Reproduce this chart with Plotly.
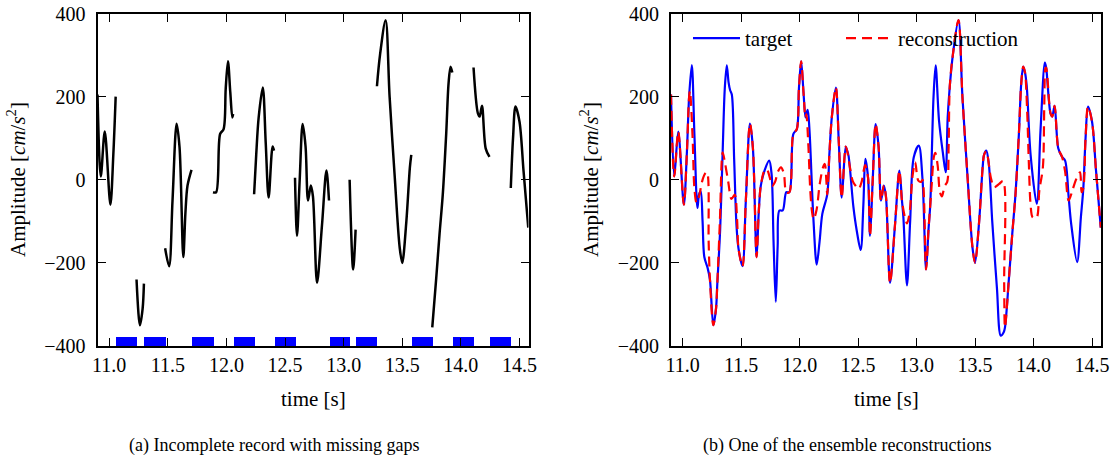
import plotly.graph_objects as go

# ---------------- data ----------------
# ground-motion record (target), sampled at its turning points [s], [cm/s^2]
target_time = [
    10.900, 10.928, 10.962, 11.010, 11.035, 11.055, 11.078, 11.100, 11.126, 11.140,
    11.154, 11.170, 11.185, 11.213, 11.233, 11.262, 11.285, 11.296, 11.320, 11.342,
    11.360, 11.377, 11.392, 11.405, 11.420, 11.440, 11.460, 11.477, 11.511, 11.540,
    11.575, 11.600, 11.632, 11.650, 11.668, 11.702, 11.740, 11.760, 11.777, 11.796,
    11.812, 11.827, 11.855, 11.886, 11.912, 11.946, 11.976, 11.994, 12.013, 12.033,
    12.050, 12.057, 12.069, 12.084, 12.117, 12.146, 12.170, 12.194, 12.236, 12.254,
    12.275, 12.310, 12.335, 12.360, 12.394, 12.406, 12.418, 12.460, 12.488, 12.522,
    12.545, 12.562, 12.585, 12.602, 12.625, 12.650, 12.675, 12.696, 12.720, 12.738,
    12.773, 12.815, 12.853, 12.875, 12.887, 12.918, 12.945, 12.976, 13.019, 13.051,
    13.081, 13.102, 13.117, 13.130, 13.145, 13.163, 13.192, 13.226, 13.249, 13.266,
    13.284, 13.310, 13.358, 13.392, 13.436, 13.478, 13.500, 13.535, 13.565, 13.577,
    13.596, 13.617, 13.647, 13.687, 13.720, 13.745, 13.756, 13.790, 13.818, 13.846,
    13.875, 13.895, 13.912, 13.927, 13.942, 13.975, 14.028, 14.060, 14.097, 14.108,
    14.145, 14.160, 14.180, 14.212, 14.244, 14.270, 14.300, 14.322, 14.373, 14.405,
    14.426, 14.445, 14.466, 14.500, 14.535, 14.575,
]
target_amp = [
    205, 8, 116, -60, 60, 200, 276, 110, -68, -35,
    -28, -100, -186, -212, -240, -350, -310, -250, -122, 70,
    220, 275, 235, 216, 205, 50, -110, -165, -208, -50,
    135, 78, -186, -80, -14, 24, 46, 14, -150, -294,
    -160, -74, -74, -30, -30, 110, 122, 220, 285, 210,
    150, 158, 168, 120, -90, -204, -150, -82, -35, 60,
    150, 222, 90, -43, 80, 70, 58, -66, -122, -169,
    -60, 50, 5, -135, 0, 134, 80, -50, -14, -40,
    -248, -110, 22, -50, -90, -254, -100, 54, 82, 0,
    -216, -120, -60, 60, 200, 275, 142, 62, 18, 150,
    225, 300, 384, 200, 6, -163, -200, -100, 30, 60,
    70, 40, -100, -260, -375, -367, -355, -236, -131, -34,
    111, 232, 272, 258, 225, 60, -58, 120, 282, 270,
    160, 152, 178, 75, 55, 46, -40, -106, -198, -90,
    -20, 100, 176, 140, 20, -115,
]

# missing intervals of the record [s]
gap_start = [11.055, 11.296, 11.702, 12.057, 12.406, 12.875, 13.102, 13.577, 13.927, 14.244]
gap_end = [11.233, 11.477, 11.886, 12.236, 12.585, 13.051, 13.284, 13.756, 14.108, 14.426]

# reconstruction inside the missing intervals
recon_gap_time = [
    11.062, 11.085, 11.100, 11.118, 11.140, 11.165, 11.190, 11.208, 11.222,
    11.318, 11.342, 11.362, 11.390, 11.417, 11.445, 11.465,
    11.720, 11.745, 11.765, 11.790, 11.815, 11.840, 11.865,
    12.075, 12.090, 12.105, 12.120, 12.145, 12.172, 12.200, 12.215, 12.228,
    12.430, 12.455, 12.480, 12.505, 12.530, 12.560,
    12.900, 12.918, 12.940, 12.966, 12.988, 13.015, 13.040,
    13.125, 13.148, 13.160, 13.180, 13.200, 13.217, 13.240, 13.262, 13.274,
    13.596, 13.635, 13.663, 13.706, 13.740, 13.749,
    13.945, 13.960, 13.975, 13.992, 14.025, 14.050, 14.080, 14.092, 14.102,
    14.270, 14.300, 14.330, 14.360, 14.388, 14.398, 14.412,
]
recon_gap_amp = [
    214, 100, -20, -55, -40, -5, 14, 18, -150,
    -100, 66, 40, -6, -46, -36, -95,
    25, 5, -15, -5, 20, 30, 15,
    80, -20, -75, -95, -72, -10, 30, 38, 0,
    30, -4, -15, -22, -5, 35,
    -90, -105, -80, 10, 42, -2, -5,
    -30, 55, 65, 35, -30, -40, -15, -5, 80,
    68, 5, -18, -10, -3, -250,
    170, 40, -60, -90, -92, -25, 30, 180, 268,
    20, -50, -28, -2, 15, 18, -30,
]

x_ticks = [11.0, 11.5, 12.0, 12.5, 13.0, 13.5, 14.0, 14.5]
y_ticks = [-400, -200, 0, 200, 400]

# ---------------- derived series ----------------
def in_gap(t):
    return any(s < t < e for s, e in zip(gap_start, gap_end))

observed_amp = [None if in_gap(t) else a for t, a in zip(target_time, target_amp)]

recon_pts = sorted(
    [(t, a) for t, a in zip(target_time, target_amp) if not in_gap(t)]
    + list(zip(recon_gap_time, recon_gap_amp))
)
recon_time = [p[0] for p in recon_pts]
recon_amp = [p[1] for p in recon_pts]

gap_center = [(s + e) / 2 for s, e in zip(gap_start, gap_end)]
gap_width = [e - s for s, e in zip(gap_start, gap_end)]
GAP_MARK = 24  # height of the gap indicator above the bottom of the axis

# ---------------- figure ----------------
W, H = 1116, 460
FONT = "Liberation Serif, Times New Roman, DejaVu Serif, serif"

def fx(px):
    return px / W

def fy(py):
    return 1 - py / H

fig = go.Figure()

# (a) observed record with gaps
fig.add_trace(go.Scatter(
    x=target_time, y=observed_amp, mode="lines", connectgaps=False,
    line=dict(color="black", width=2.5, shape="spline", smoothing=0.9),
    showlegend=False, xaxis="x", yaxis="y",
))
fig.add_trace(go.Bar(
    x=gap_center, y=[GAP_MARK] * len(gap_center), base=-400, width=gap_width,
    marker=dict(color="#0000ff", line=dict(width=0)),
    showlegend=False, xaxis="x", yaxis="y",
))

# (b) target vs reconstruction
fig.add_trace(go.Scatter(
    x=target_time, y=target_amp, mode="lines", name="target", legend="legend",
    line=dict(color="#0000ff", width=2.2, shape="spline", smoothing=0.9),
    xaxis="x2", yaxis="y2",
))
fig.add_trace(go.Scatter(
    x=recon_time, y=recon_amp, mode="lines", name="reconstruction", legend="legend2",
    line=dict(color="#ff0000", width=2.2, shape="spline", smoothing=0.9, dash="10px,6px"),
    xaxis="x2", yaxis="y2",
))

axis_common = dict(
    showline=True, linecolor="black", linewidth=2, mirror="ticks",
    ticks="inside", ticklen=8, tickwidth=1.2, tickcolor="black",
    showgrid=False, zeroline=False,
    tickfont=dict(family=FONT, size=20, color="black"),
)
xr = [10.9, 14.577]

legend_common = dict(
    orientation="h", xanchor="left", yanchor="top", y=fy(18),
    bgcolor="rgba(0,0,0,0)", borderwidth=0, itemwidth=47,
    font=dict(family=FONT, size=21, color="black"),
)

fig.update_layout(
    width=W, height=H,
    margin=dict(l=0, r=0, t=0, b=0, autoexpand=False),
    paper_bgcolor="white", plot_bgcolor="white",
    font=dict(family=FONT, color="black"),
    bargap=0,
    xaxis=dict(domain=[fx(97.5), fx(528.5)], range=xr, anchor="y",
               tickvals=x_ticks, ticktext=[f"{v:.1f}" for v in x_ticks],
               ticklabelstandoff=0, **axis_common),
    yaxis=dict(domain=[fy(346), fy(13.5)], range=[-400, 400], anchor="x",
               tickvals=y_ticks, ticklabelstandoff=6, **axis_common),
    xaxis2=dict(domain=[fx(671), fx(1101)], range=xr, anchor="y2",
                tickvals=x_ticks, ticktext=[f"{v:.1f}" for v in x_ticks],
                ticklabelstandoff=0, **axis_common),
    yaxis2=dict(domain=[fy(346), fy(13.5)], range=[-400, 400], anchor="x2",
                tickvals=y_ticks, ticklabelstandoff=6, **axis_common),
    legend=dict(x=fx(688), **legend_common),
    legend2=dict(x=fx(841), **legend_common),
)

ylabel = "Amplitude [<i>cm</i>/<i>s</i><sup>2</sup>]"
annotations = [
    dict(text="time [s]", x=fx(313), y=fy(399)),
    dict(text="time [s]", x=fx(886), y=fy(399)),
    dict(text=ylabel, x=fx(17), y=fy(180), textangle=-90),
    dict(text=ylabel, x=fx(590), y=fy(180), textangle=-90),
]
for a in annotations:
    a.update(xref="paper", yref="paper", showarrow=False, xanchor="center",
             yanchor="middle", font=dict(family=FONT, size=21, color="black"))
captions = [
    dict(text="(a) Incomplete record with missing gaps", x=fx(274), y=fy(458)),
    dict(text="(b) One of the ensemble reconstructions", x=fx(847), y=fy(458)),
]
for c in captions:
    c.update(xref="paper", yref="paper", showarrow=False, xanchor="center",
             yanchor="bottom", font=dict(family=FONT, size=18, color="black"))
fig.update_layout(annotations=annotations + captions)

fig.write_html("out.html")
